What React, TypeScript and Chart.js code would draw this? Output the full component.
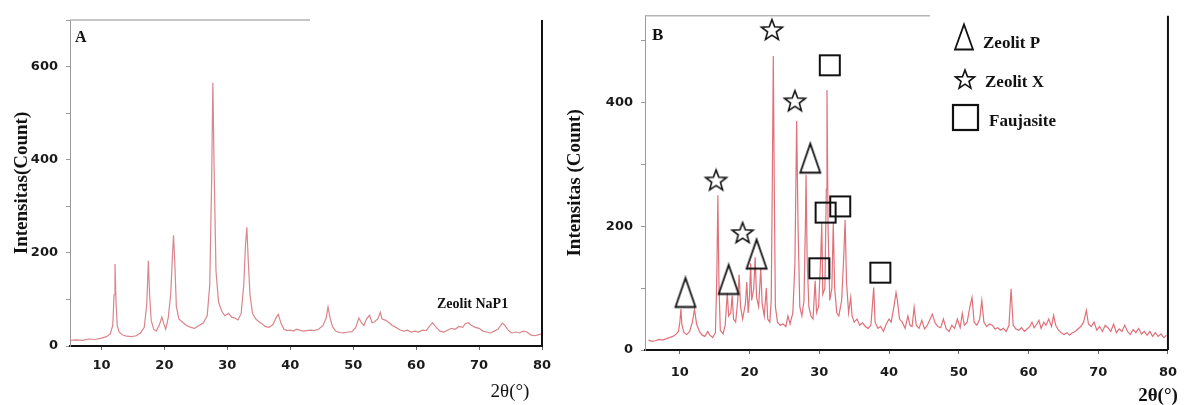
import React, { useEffect, useRef } from 'react';
import { Chart, registerables } from 'chart.js';
Chart.register(...registerables);

// ---------- Panel A : Zeolit NaP1 ----------
const thetaA = [5.0, 6.0, 7.0, 8.0, 9.0, 10.0, 10.8, 11.4, 11.8, 12.0, 12.15, 12.3, 12.5, 12.8, 13.3, 14.0, 14.8, 15.5, 16.2, 16.8, 17.2, 17.45, 17.65, 17.9, 18.3, 18.7, 19.2, 19.6, 19.9, 20.2, 20.6, 21.0, 21.3, 21.45, 21.65, 21.9, 22.3, 22.8, 23.5, 24.2, 24.8, 25.5, 26.2, 26.8, 27.2, 27.5, 27.7, 27.9, 28.2, 28.6, 29.1, 29.6, 30.2, 30.7, 31.2, 31.7, 32.2, 32.6, 32.9, 33.1, 33.3, 33.6, 34.0, 34.5, 35.0, 35.5, 36.0, 36.6, 37.2, 37.8, 38.1, 38.5, 39.0, 39.5, 40.0, 40.5, 41.0, 41.5, 42.0, 42.6, 43.2, 43.8, 44.5, 45.2, 45.7, 46.0, 46.3, 46.7, 47.2, 47.8, 48.5, 49.2, 49.8, 50.4, 50.9, 51.3, 51.7, 52.1, 52.6, 53.0, 53.4, 53.9, 54.3, 54.6, 55.2, 55.7, 56.2, 56.8, 57.4, 58.0, 58.6, 59.2, 59.8, 60.4, 61.0, 61.6, 62.1, 62.6, 63.2, 63.8, 64.4, 65.0, 65.6, 66.2, 66.8, 67.4, 67.8, 68.3, 68.8, 69.4, 70.0, 70.6, 71.2, 71.8, 72.4, 73.0, 73.7, 74.1, 74.6, 75.2, 75.8, 76.4, 77.0, 77.6, 78.2, 78.8, 79.4, 80.0];
const countA = [12, 13, 12, 15, 14, 17, 20, 26, 45, 110, 176, 100, 45, 30, 24, 21, 20, 22, 28, 40, 90, 183, 110, 55, 36, 32, 45, 62, 48, 36, 60, 110, 200, 238, 180, 85, 58, 52, 44, 40, 38, 44, 50, 65, 130, 350, 565, 380, 160, 95, 75, 65, 70, 62, 60, 56, 70, 130, 220, 255, 190, 110, 70, 58, 52, 48, 42, 40, 45, 62, 68, 50, 36, 33, 34, 32, 36, 34, 32, 33, 34, 33, 36, 44, 60, 84, 62, 42, 32, 29, 28, 30, 31, 40, 60, 50, 44, 58, 66, 50, 52, 58, 72, 58, 55, 50, 44, 40, 35, 32, 34, 30, 32, 30, 34, 33, 42, 50, 40, 32, 30, 34, 38, 36, 42, 40, 48, 50, 44, 40, 38, 32, 30, 28, 32, 36, 49, 44, 34, 28, 30, 28, 32, 30, 24, 22, 24, 26];
const yTicksA = [0, 200, 400, 600];

// ---------- Panel B : products ----------
const thetaB = [5.5, 6.0, 6.5, 7.0, 7.5, 8.0, 8.5, 9.0, 9.5, 9.8, 10.0, 10.15, 10.3, 10.6, 11.0, 11.4, 11.8, 12.1, 12.4, 12.8, 13.2, 13.6, 14.0, 14.3, 14.7, 15.1, 15.3, 15.45, 15.6, 15.8, 16.2, 16.5, 16.8, 17.0, 17.3, 17.5, 17.7, 18.0, 18.3, 18.5, 18.7, 19.0, 19.4, 19.6, 19.8, 20.0, 20.15, 20.3, 20.6, 20.8, 21.0, 21.3, 21.6, 21.8, 22.1, 22.4, 22.6, 22.9, 23.1, 23.25, 23.4, 23.55, 23.7, 24.0, 24.4, 24.8, 25.2, 25.5, 25.8, 26.2, 26.5, 26.75, 26.95, 27.2, 27.5, 27.8, 28.0, 28.1, 28.25, 28.5, 28.8, 29.1, 29.4, 29.6, 29.9, 30.2, 30.35, 30.5, 30.8, 31.0, 31.1, 31.25, 31.5, 31.8, 32.0, 32.2, 32.5, 32.8, 33.2, 33.5, 33.7, 33.9, 34.2, 34.5, 34.7, 35.0, 35.4, 35.8, 36.2, 36.6, 37.0, 37.4, 37.8, 38.0, 38.4, 38.8, 39.2, 39.6, 40.0, 40.3, 40.7, 41.0, 41.2, 41.5, 41.9, 42.3, 42.7, 43.0, 43.3, 43.6, 43.9, 44.3, 44.7, 45.1, 45.5, 45.9, 46.2, 46.6, 47.0, 47.4, 47.8, 48.2, 48.6, 49.0, 49.4, 49.8, 50.2, 50.5, 50.8, 51.2, 51.6, 51.9, 52.2, 52.6, 53.0, 53.3, 53.6, 54.0, 54.4, 54.8, 55.2, 55.6, 56.0, 56.4, 56.8, 57.2, 57.5, 57.8, 58.2, 58.6, 59.0, 59.4, 59.8, 60.2, 60.5, 60.8, 61.2, 61.5, 61.8, 62.2, 62.5, 62.9, 63.3, 63.6, 63.9, 64.3, 64.7, 65.1, 65.5, 65.9, 66.3, 66.7, 67.1, 67.5, 67.9, 68.3, 68.6, 69.0, 69.4, 69.8, 70.2, 70.6, 71.0, 71.4, 71.8, 72.2, 72.6, 73.0, 73.4, 73.8, 74.2, 74.6, 75.0, 75.4, 75.8, 76.2, 76.6, 77.0, 77.4, 77.8, 78.2, 78.6, 79.0, 79.4, 79.8];
const countB = [16, 14, 15, 17, 16, 18, 20, 22, 26, 30, 45, 66, 40, 28, 25, 30, 45, 66, 42, 30, 24, 22, 30, 24, 20, 28, 120, 250, 110, 32, 26, 40, 92, 55, 60, 88, 50, 45, 80, 122, 70, 50, 75, 110, 60, 90, 140, 80, 100, 150, 85, 70, 132, 75, 55, 100, 50, 45, 80, 260, 475, 250, 70, 45, 40, 42, 38, 55, 42, 60, 140, 370, 200, 70, 55, 80, 200, 283, 150, 70, 55, 50, 112, 60, 70, 150, 205, 90, 100, 260, 420, 200, 80, 100, 205, 100, 60, 55, 80, 150, 210, 110, 60, 85, 55, 45, 50, 40, 44, 38, 35, 40, 101, 45, 35, 38, 30, 42, 50, 45, 70, 93, 80, 50, 45, 35, 55, 40, 38, 69, 40, 35, 48, 34, 40, 50, 58, 44, 38, 36, 50, 34, 30, 40, 35, 50, 36, 59, 40, 45, 70, 85, 45, 40, 50, 80, 45, 38, 42, 40, 34, 36, 32, 35, 30, 40, 99, 40, 34, 32, 36, 30, 34, 38, 45, 36, 42, 48, 35, 45, 40, 50, 38, 56, 40, 32, 28, 25, 28, 24, 28, 30, 34, 38, 45, 64, 42, 38, 45, 32, 38, 30, 40, 36, 30, 42, 28, 34, 30, 40, 30, 25, 33, 28, 35, 26, 30, 24, 30, 22, 28, 22, 26, 20, 24];
const yTicksB = [0, 200, 400];

// phase markers in panel B
const triangleTheta = [10.8, 17.0, 21.0, 28.7];
const triangleCount = [93, 114, 155, 310];
const starTheta = [15.2, 19.0, 23.2, 26.5];
const starCount = [274, 189, 517, 402];
const squareTheta = [30.0, 30.9, 33.0, 31.5, 38.75];
const squareCount = [132, 222, 232, 460, 125];
const legendLabels = ['Zeolit P', 'Zeolit X', 'Faujasite'];

const xTicks = [10, 20, 30, 40, 50, 60, 70, 80];

const pts = (xs: number[], ys: number[]) => xs.map((x, i) => ({ x, y: ys[i] }));

function drawTriangle(ctx: CanvasRenderingContext2D, cx: number, cy: number, w: number, h: number) {
  ctx.beginPath();
  ctx.moveTo(cx, cy - h / 2);
  ctx.lineTo(cx + w / 2, cy + h / 2);
  ctx.lineTo(cx - w / 2, cy + h / 2);
  ctx.closePath();
  ctx.stroke();
}
function drawStar(ctx: CanvasRenderingContext2D, cx: number, cy: number, ro: number, ri: number) {
  ctx.beginPath();
  for (let i = 0; i < 10; i++) {
    const r = i % 2 === 0 ? ro : ri;
    const a = -Math.PI / 2 + (i * Math.PI) / 5;
    const px = cx + r * Math.cos(a);
    const py = cy + r * Math.sin(a);
    if (i === 0) ctx.moveTo(px, py); else ctx.lineTo(px, py);
  }
  ctx.closePath();
  ctx.stroke();
}

function makeIcon(w: number, h: number, draw: (c: CanvasRenderingContext2D) => void) {
  const c = document.createElement('canvas');
  c.width = w; c.height = h;
  const ctx = c.getContext('2d')!;
  ctx.strokeStyle = '#111';
  draw(ctx);
  return c;
}

const tickFont = { family: '"DejaVu Sans", sans-serif', size: 13, weight: 'bold' as const };

function baseOptions(opts: {
  yMax: number; yTicks: number[]; left: number; bottom: number; top: number; right: number; xPad: number;
}) {
  return {
    responsive: false,
    animation: false as const,
    layout: { padding: { top: opts.top, right: opts.right, left: 0, bottom: 0 } },
    plugins: { legend: { display: false }, tooltip: { enabled: false } },
    scales: {
      x: {
        type: 'linear' as const,
        min: 5,
        max: 80,
        afterFit: (s: any) => { s.height = opts.bottom; },
        border: { display: true, color: '#111', width: 2 },
        grid: { display: true, drawOnChartArea: false, drawTicks: true, tickLength: 4, color: '#666' },
        ticks: {
          stepSize: 10,
          includeBounds: false,
          padding: opts.xPad,
          color: '#1a1a1a',
          font: tickFont,
          maxRotation: 0,
          callback: (v: any) => (xTicks.includes(Number(v)) ? String(v) : ''),
        },
      },
      y: {
        type: 'linear' as const,
        min: 0,
        max: opts.yMax,
        afterFit: (s: any) => { s.width = opts.left; },
        border: { display: true, color: '#9a9a9a', width: 1 },
        grid: { display: true, drawOnChartArea: false, drawTicks: true, tickLength: 4, color: '#9a9a9a' },
        ticks: {
          stepSize: 100,
          includeBounds: false,
          padding: 8,
          color: '#1a1a1a',
          font: tickFont,
          callback: (v: any) => (opts.yTicks.includes(Number(v)) ? String(v) : ''),
        },
      },
    },
  };
}

function ChartA() {
  const ref = useRef<HTMLCanvasElement | null>(null);
  useEffect(() => {
    if (!ref.current) return;
    const decor = {
      id: 'decorA',
      afterDraw(chart: any) {
        const { ctx, chartArea: a } = chart;
        ctx.save();
        ctx.strokeStyle = '#b5b5b5';
        ctx.lineWidth = 1.5;
        ctx.beginPath(); ctx.moveTo(a.left, a.top); ctx.lineTo(310, a.top); ctx.stroke();
        ctx.strokeStyle = '#111';
        ctx.lineWidth = 2;
        ctx.beginPath(); ctx.moveTo(a.right, a.top); ctx.lineTo(a.right, a.bottom); ctx.stroke();
        ctx.fillStyle = '#111';
        ctx.font = 'bold 16px "Liberation Serif", serif';
        ctx.textAlign = 'left';
        ctx.fillText('A', 75, 42);
        ctx.font = 'bold 14px "Liberation Serif", serif';
        ctx.fillText('Zeolit NaP1', 437, 308);
        ctx.font = '19px "Liberation Serif", serif';
        ctx.textAlign = 'center';
        ctx.fillText('2θ(°)', 510, 397);
        ctx.translate(27, (a.top + a.bottom) / 2);
        ctx.rotate(-Math.PI / 2);
        ctx.font = 'bold 19px "Liberation Serif", serif';
        ctx.fillText('Intensitas(Count)', 0, 0);
        ctx.restore();
      },
    };
    const chart = new Chart(ref.current, {
      type: 'scatter',
      data: {
        datasets: [
          {
            data: pts(thetaA, countA),
            showLine: true,
            borderColor: '#d9868c',
            borderWidth: 1.2,
            pointRadius: 0,
            tension: 0,
          },
        ],
      },
      options: baseOptions({ yMax: 700, yTicks: yTicksA, left: 70, bottom: 59, top: 20, right: 18, xPad: 8 }) as any,
      plugins: [decor],
    });
    return () => chart.destroy();
  }, []);
  return <canvas ref={ref} width={560} height={405} style={{ position: 'absolute', left: 0, top: 0 }} />;
}

function ChartB() {
  const ref = useRef<HTMLCanvasElement | null>(null);
  useEffect(() => {
    if (!ref.current) return;
    const tri = makeIcon(24, 34, (c) => { c.lineWidth = 1.8; drawTriangle(c, 12, 17, 20, 29); });
    const star = makeIcon(26, 26, (c) => { c.lineWidth = 1.6; drawStar(c, 13, 13.5, 11, 4.6); });
    const sq = makeIcon(24, 24, (c) => { c.lineWidth = 2; c.strokeRect(2, 2, 20, 20); });
    const decor = {
      id: 'decorB',
      afterDraw(chart: any) {
        const { ctx, chartArea: a } = chart;
        ctx.save();
        ctx.strokeStyle = '#b5b5b5';
        ctx.lineWidth = 1.5;
        ctx.beginPath(); ctx.moveTo(a.left, a.top); ctx.lineTo(370, a.top); ctx.stroke();
        ctx.strokeStyle = '#111';
        ctx.lineWidth = 2;
        ctx.beginPath(); ctx.moveTo(a.right, a.top); ctx.lineTo(a.right, a.bottom); ctx.stroke();
        ctx.fillStyle = '#111';
        ctx.font = 'bold 17px "Liberation Serif", serif';
        ctx.textAlign = 'left';
        ctx.fillText('B', 92, 40);
        // legend
        ctx.lineWidth = 1.8;
        drawTriangle(ctx, 404, 37, 18, 25);
        ctx.lineWidth = 1.6;
        drawStar(ctx, 405, 80, 10, 4.2);
        ctx.lineWidth = 2.2;
        ctx.strokeRect(393, 105, 25, 25);
        ctx.font = 'bold 17px "Liberation Serif", serif';
        ctx.fillText(legendLabels[0], 423, 48);
        ctx.fillText(legendLabels[1], 425, 87);
        ctx.fillText(legendLabels[2], 429, 126);
        ctx.font = 'bold 19px "Liberation Serif", serif';
        ctx.textAlign = 'center';
        ctx.fillText('2θ(°)', 598, 401);
        ctx.translate(20, (a.top + a.bottom) / 2);
        ctx.rotate(-Math.PI / 2);
        ctx.fillText('Intensitas (Count)', 0, 0);
        ctx.restore();
      },
    };
    const chart = new Chart(ref.current, {
      type: 'scatter',
      data: {
        datasets: [
          { data: pts(triangleTheta, triangleCount), pointStyle: tri as any, pointRadius: 10, showLine: false },
          { data: pts(starTheta, starCount), pointStyle: star as any, pointRadius: 10, showLine: false },
          { data: pts(squareTheta, squareCount), pointStyle: sq as any, pointRadius: 10, showLine: false },
          {
            data: pts(thetaB, countB),
            showLine: true,
            borderColor: '#e0707a',
            borderWidth: 1.2,
            pointRadius: 0,
            tension: 0,
          },
        ],
      },
      options: baseOptions({ yMax: 540, yTicks: yTicksB, left: 85, bottom: 55, top: 12, right: 11, xPad: 11 }) as any,
      plugins: [decor],
    });
    return () => chart.destroy();
  }, []);
  return <canvas ref={ref} width={628} height={405} style={{ position: 'absolute', left: 560, top: 0 }} />;
}

export default function App() {
  return (
    <div style={{ position: 'absolute', left: 0, top: 0, width: 1188, height: 405, background: '#fff' }}>
      <ChartA />
      <ChartB />
    </div>
  );
}
